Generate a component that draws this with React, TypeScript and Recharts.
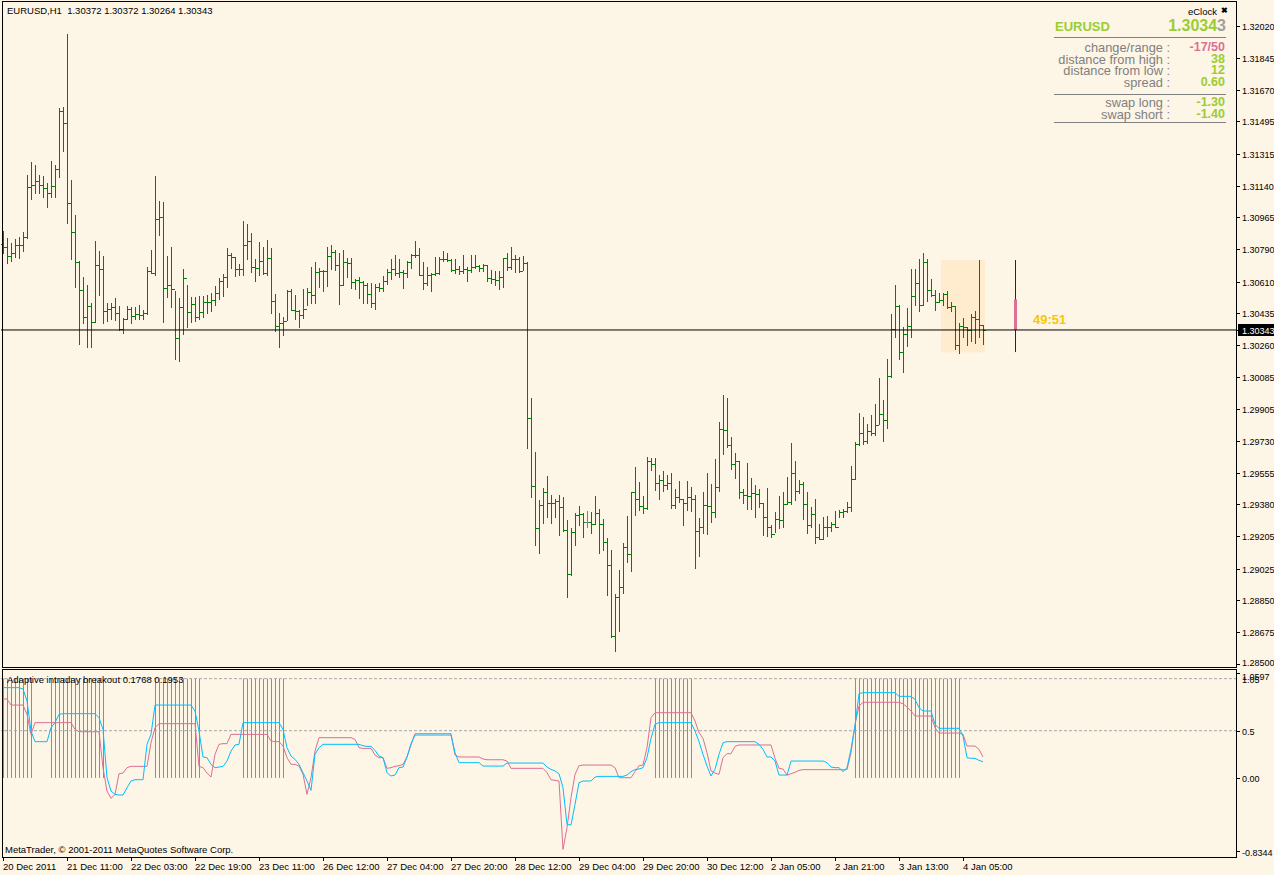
import { ComposedChart, Bar, Line, XAxis, YAxis, ReferenceLine, ReferenceArea } from "recharts"

const BG = "#FDF5E6"
const FONT = "Tahoma, 'Liberation Sans', Arial, sans-serif"
const SLOTS = 309
const LAST_PRICE = 1.30343
const PRICE_MIN = 1.28482
const PRICE_MAX = 1.32154

// EURUSD H1 bars, oldest first
const firstOpen = 1.3082
const highs = [
  1.30892, 1.30851, 1.30825, 1.30847, 1.30858, 1.30884, 1.31201, 1.31271, 1.31256, 1.31197,
  1.31193, 1.31156, 1.31278, 1.31252, 1.31569, 1.31576, 1.31977, 1.31171, 1.3098, 1.30726,
  1.30637, 1.30593, 1.3049, 1.30836, 1.30781, 1.30751, 1.30494, 1.3049, 1.3052, 1.30475,
  1.30409, 1.30475, 1.30468, 1.30468, 1.30479, 1.30453, 1.30693, 1.30785, 1.31193, 1.31053,
  1.3105, 1.30751, 1.30799, 1.3056, 1.30519, 1.30681, 1.30589, 1.30523, 1.30523, 1.30531,
  1.30531, 1.30534, 1.30549, 1.30586, 1.3063, 1.30652, 1.30796, 1.30766, 1.30744, 1.30707,
  1.30943, 1.30928, 1.30877, 1.30737, 1.30829, 1.30803, 1.3084, 1.30796, 1.30542, 1.30435,
  1.30416, 1.30564, 1.30567, 1.30538, 1.30453, 1.30571, 1.30575, 1.30693, 1.30718, 1.30685,
  1.30674, 1.30799, 1.30814, 1.30785, 1.3077, 1.30785, 1.3074, 1.3074, 1.30626, 1.30634,
  1.30612, 1.30604, 1.30604, 1.30597, 1.30604, 1.30641, 1.30678, 1.30737, 1.30755, 1.30737,
  1.30674, 1.30722, 1.30762, 1.30832, 1.30796, 1.30718, 1.30693, 1.30656, 1.30744, 1.30744,
  1.30781, 1.3077, 1.30737, 1.30733, 1.30696, 1.30755, 1.30693, 1.30759, 1.30759, 1.30704,
  1.30707, 1.307, 1.30674, 1.30667, 1.30667, 1.3074, 1.30766, 1.30799, 1.30755, 1.30748,
  1.30751, 1.30718, 1.29967, 1.29669, 1.29404, 1.2947, 1.29537, 1.2943, 1.29411, 1.2943,
  1.29419, 1.29293, 1.29249, 1.29334, 1.29371, 1.2933, 1.29345, 1.29338, 1.29426, 1.29352,
  1.29297, 1.29193, 1.29128, 1.28885, 1.29017, 1.29168, 1.29316, 1.29448, 1.29584, 1.29503,
  1.29426, 1.2964, 1.29636, 1.29636, 1.2954, 1.29566, 1.29544, 1.29555, 1.29467, 1.29507,
  1.29411, 1.29507, 1.29478, 1.29433, 1.29305, 1.29448, 1.29551, 1.29492, 1.29632, 1.29835,
  1.29986, 1.29967, 1.29754, 1.29662, 1.29621, 1.29467, 1.29607, 1.29525, 1.29485, 1.29467,
  1.29385, 1.2947, 1.29264, 1.29338, 1.29426, 1.29448, 1.29533, 1.29721, 1.29621, 1.29514,
  1.29503, 1.29448, 1.29367, 1.29411, 1.29271, 1.29312, 1.29316, 1.29282, 1.29345, 1.29349,
  1.29352, 1.29393, 1.29592, 1.29724, 1.29886, 1.29864, 1.29824, 1.29875, 1.29934, 1.30078,
  1.29956, 1.30181, 1.30431, 1.30593, 1.30479, 1.30357, 1.30464, 1.30681, 1.30681, 1.30737,
  1.3077, 1.30737, 1.30626, 1.30564, 1.30545, 1.30549, 1.3056, 1.30497, 1.30475, 1.3038,
  1.30409, 1.30357, 1.30431, 1.3045, 1.30729, 1.30372,
]
const lows = [
  1.30767, 1.30711, 1.30726, 1.30744, 1.3074, 1.30777, 1.30851, 1.31068, 1.31101, 1.31097,
  1.31079, 1.3102, 1.31079, 1.31075, 1.31186, 1.31329, 1.30932, 1.30737, 1.30578, 1.30265,
  1.30383, 1.30247, 1.30251, 1.30387, 1.30538, 1.30383, 1.30391, 1.30405, 1.30398, 1.30343,
  1.30328, 1.30402, 1.30383, 1.30402, 1.30405, 1.30405, 1.30431, 1.30656, 1.30648, 1.30866,
  1.30387, 1.30527, 1.30468, 1.30185, 1.3017, 1.30321, 1.30358, 1.30387, 1.30394, 1.30402,
  1.30416, 1.30435, 1.3045, 1.30479, 1.30512, 1.30531, 1.30582, 1.30685, 1.30641, 1.30645,
  1.30648, 1.30737, 1.30663, 1.30615, 1.30645, 1.30652, 1.30645, 1.30439, 1.30335, 1.30251,
  1.30313, 1.30398, 1.30453, 1.30402, 1.30358, 1.30409, 1.30483, 1.3049, 1.3049, 1.30582,
  1.30556, 1.30586, 1.30678, 1.30674, 1.30486, 1.30589, 1.30637, 1.30575, 1.30571, 1.30519,
  1.3049, 1.30494, 1.30472, 1.30461, 1.3056, 1.3056, 1.30597, 1.30626, 1.30645, 1.30637,
  1.30575, 1.30637, 1.30685, 1.30748, 1.30645, 1.30571, 1.30593, 1.30556, 1.30645, 1.30652,
  1.30722, 1.30722, 1.3067, 1.30656, 1.30652, 1.30656, 1.30612, 1.30663, 1.30685, 1.3067,
  1.3067, 1.30612, 1.30604, 1.30589, 1.30567, 1.30578, 1.30674, 1.30678, 1.30663, 1.30663,
  1.30674, 1.29691, 1.29422, 1.29154, 1.29109, 1.29279, 1.29312, 1.29279, 1.29312, 1.29209,
  1.29231, 1.28867, 1.28992, 1.29157, 1.29268, 1.29202, 1.29253, 1.29224, 1.29271, 1.29109,
  1.29128, 1.28877, 1.28649, 1.28568, 1.28682, 1.28889, 1.29062, 1.29014, 1.29323, 1.29349,
  1.29334, 1.29356, 1.2957, 1.29459, 1.29411, 1.29455, 1.29463, 1.2936, 1.2936, 1.29393,
  1.29268, 1.29349, 1.29345, 1.29029, 1.29095, 1.2922, 1.29216, 1.29282, 1.29308, 1.29455,
  1.29658, 1.29695, 1.29577, 1.29525, 1.29415, 1.29385, 1.29356, 1.29352, 1.29308, 1.29367,
  1.29212, 1.29205, 1.29198, 1.29227, 1.29249, 1.29257, 1.29382, 1.29382, 1.29404, 1.29441,
  1.29301, 1.29224, 1.29257, 1.29168, 1.2919, 1.29187, 1.29205, 1.29235, 1.29253, 1.29308,
  1.29308, 1.29338, 1.29345, 1.29518, 1.2971, 1.29713, 1.29721, 1.29765, 1.29761, 1.29824,
  1.29732, 1.29802, 1.30085, 1.30306, 1.30184, 1.30111, 1.30254, 1.30306, 1.30479, 1.30446,
  1.30479, 1.30505, 1.3053, 1.30453, 1.30497, 1.30479, 1.30464, 1.3045, 1.3024, 1.30218,
  1.30306, 1.30262, 1.30284, 1.30271, 1.30306, 1.30264,
]
const closes = [
  1.308, 1.30751, 1.3077, 1.3081, 1.30814, 1.30858, 1.31131, 1.31145, 1.31164, 1.31142,
  1.31127, 1.31097, 1.31138, 1.3123, 1.3155, 1.31484, 1.31042, 1.30884, 1.30718, 1.30564,
  1.30413, 1.30475, 1.30387, 1.30704, 1.30682, 1.30446, 1.30457, 1.30468, 1.30435, 1.3035,
  1.30402, 1.30457, 1.3042, 1.30431, 1.30427, 1.30438, 1.30668, 1.30656, 1.30954, 1.30965,
  1.30575, 1.30589, 1.30567, 1.30299, 1.30472, 1.30628, 1.3044, 1.30486, 1.30413, 1.30444,
  1.30497, 1.305, 1.30508, 1.30545, 1.30612, 1.30637, 1.30755, 1.30744, 1.30678, 1.30681,
  1.30814, 1.30836, 1.30693, 1.30685, 1.30722, 1.30659, 1.3074, 1.30505, 1.30365, 1.30383,
  1.30391, 1.30556, 1.30453, 1.3045, 1.30424, 1.30461, 1.30553, 1.30534, 1.30663, 1.30667,
  1.3067, 1.30751, 1.30773, 1.307, 1.30589, 1.30718, 1.30711, 1.30608, 1.30619, 1.30608,
  1.30589, 1.30542, 1.3049, 1.30582, 1.30575, 1.30612, 1.30663, 1.30678, 1.30659, 1.30663,
  1.30656, 1.30718, 1.30755, 1.30759, 1.30645, 1.306, 1.30648, 1.30652, 1.30656, 1.30733,
  1.30736, 1.30729, 1.30674, 1.30677, 1.30667, 1.30678, 1.30674, 1.30693, 1.30696, 1.30685,
  1.307, 1.3063, 1.30622, 1.30619, 1.30634, 1.3074, 1.30689, 1.30733, 1.30737, 1.30667,
  1.30715, 1.29855, 1.29481, 1.29249, 1.29374, 1.29448, 1.29389, 1.29385, 1.29397, 1.29364,
  1.29238, 1.28995, 1.29227, 1.29319, 1.29327, 1.29282, 1.29282, 1.29271, 1.2933, 1.29271,
  1.29172, 1.29043, 1.28653, 1.28867, 1.28922, 1.29146, 1.29106, 1.29448, 1.29411, 1.29371,
  1.2936, 1.29621, 1.29603, 1.295, 1.29514, 1.29489, 1.295, 1.29378, 1.29419, 1.29411,
  1.29389, 1.29419, 1.29411, 1.29231, 1.29257, 1.29378, 1.29371, 1.29338, 1.29478, 1.29798,
  1.29791, 1.2971, 1.29603, 1.29621, 1.29448, 1.2943, 1.29426, 1.29441, 1.29437, 1.29385,
  1.29312, 1.29257, 1.29216, 1.29297, 1.29294, 1.29382, 1.29393, 1.29551, 1.29452, 1.29492,
  1.29382, 1.29264, 1.29327, 1.29202, 1.2919, 1.29253, 1.29256, 1.29271, 1.29253, 1.29338,
  1.29341, 1.29364, 1.29518, 1.29713, 1.29776, 1.29728, 1.29787, 1.29772, 1.29816, 1.29879,
  1.29846, 1.30089, 1.30347, 1.30475, 1.30221, 1.3032, 1.30365, 1.3053, 1.30604, 1.30479,
  1.30718, 1.30564, 1.30534, 1.30497, 1.30508, 1.30542, 1.30472, 1.30475, 1.30262, 1.30365,
  1.30357, 1.30343, 1.30416, 1.30405, 1.30372, 1.30343,
]
const dojiBars = [146]

// eClock projection bar drawn ahead of the last bar
const eclockSlot = 253
const eclockRange = [1.30221, 1.30729]
const eclockBody = [1.30343, 1.30512]
const boxFrom = 235
const boxTo = 245

// Adaptive intraday breakout (fast = blue, slow = pink)
const fastLine = [
  0.955, 0.955, 0.955, 0.955, 0.955, 0.94, 0.814, 0.496, 0.384, 0.384,
  0.384, 0.384, 0.532, 0.585, 0.673, 0.68, 0.68, 0.68, 0.68, 0.68,
  0.68, 0.68, 0.68, 0.68, 0.637, 0.514, 0.003, -0.138, -0.173, -0.18,
  -0.18, -0.103, -0.032, -0.018, -0.018, -0.018, 0.356, 0.461, 0.771, 0.771,
  0.771, 0.771, 0.771, 0.771, 0.771, 0.771, 0.771, 0.771, 0.708, 0.496,
  0.222, 0.215, 0.144, 0.109, 0.116, 0.123, 0.179, 0.285, 0.349, 0.356,
  0.585, 0.585, 0.585, 0.585, 0.585, 0.585, 0.585, 0.585, 0.585, 0.585,
  0.514, 0.32, 0.232, 0.197, 0.144, 0.056, -0.032, -0.131, 0.25, 0.32,
  0.356, 0.356, 0.356, 0.356, 0.356, 0.356, 0.356, 0.356, 0.356, 0.356,
  0.341, 0.334, 0.334, 0.292, 0.232, 0.215, 0.056, 0.021, 0.031, 0.109,
  0.116, 0.222, 0.363, 0.454, 0.454, 0.454, 0.454, 0.454, 0.454, 0.454,
  0.454, 0.454, 0.454, 0.267, 0.162, 0.162, 0.162, 0.162, 0.162, 0.162,
  0.126, 0.126, 0.126, 0.126, 0.126, 0.126, 0.158, 0.158, 0.158, 0.158,
  0.158, 0.158, 0.158, 0.158, 0.158, 0.158, 0.116, 0.091, 0.074, 0.045,
  -0.103, -0.49, -0.497, -0.279, -0.05, -0.032, -0.032, -0.032, 0.01, 0.017,
  0.017, 0.017, 0.017, 0.017, 0.017, 0.017, 0.031, 0.067, 0.088, 0.095,
  0.109, 0.215, 0.419, 0.567, 0.585, 0.585, 0.585, 0.585, 0.585, 0.585,
  0.585, 0.585, 0.585, 0.496, 0.384, 0.25, 0.126, 0.021, 0.091, 0.25,
  0.373, 0.384, 0.384, 0.384, 0.384, 0.384, 0.384, 0.384, 0.384, 0.356,
  0.303, 0.222, 0.222, 0.179, 0.031, 0.031, 0.031, 0.179, 0.179, 0.179,
  0.179, 0.179, 0.179, 0.179, 0.179, 0.179, 0.162, 0.116, 0.109, 0.109,
  0.067, 0.109, 0.303, 0.549, 0.891, 0.902, 0.902, 0.902, 0.902, 0.902,
  0.902, 0.902, 0.902, 0.902, 0.863, 0.863, 0.863, 0.863, 0.831, 0.743,
  0.708, 0.708, 0.708, 0.567, 0.525, 0.525, 0.525, 0.525, 0.525, 0.525,
  0.444, 0.215, 0.208, 0.208, 0.186, 0.172,
]
const slowLine = [
  0.835, 0.835, 0.771, 0.771, 0.771, 0.771, 0.673, 0.461, 0.585, 0.585,
  0.585, 0.585, 0.585, 0.585, 0.585, 0.585, 0.585, 0.585, 0.514, 0.489,
  0.489, 0.489, 0.489, 0.489, 0.489, 0.109, -0.138, -0.215, -0.173, 0.045,
  0.052, 0.109, 0.123, 0.123, 0.123, 0.123, 0.123, 0.373, 0.532, 0.574,
  0.574, 0.574, 0.574, 0.574, 0.574, 0.574, 0.574, 0.574, 0.574, 0.123,
  0.109, 0.052, 0.01, 0.25, 0.356, 0.363, 0.363, 0.461, 0.461, 0.461,
  0.461, 0.461, 0.461, 0.461, 0.461, 0.461, 0.461, 0.391, 0.384, 0.384,
  0.338, 0.215, 0.144, 0.144, 0.126, 0.038, -0.173, 0.003, 0.285, 0.426,
  0.426, 0.426, 0.426, 0.426, 0.426, 0.426, 0.426, 0.426, 0.408, 0.32,
  0.313, 0.313, 0.313, 0.243, 0.215, 0.215, 0.102, 0.109, 0.123, 0.13,
  0.144, 0.222, 0.349, 0.468, 0.468, 0.468, 0.468, 0.468, 0.468, 0.468,
  0.468, 0.468, 0.468, 0.243, 0.222, 0.222, 0.222, 0.222, 0.222, 0.222,
  0.201, 0.193, 0.193, 0.193, 0.193, 0.193, 0.179, 0.102, 0.102, 0.102,
  0.102, 0.102, 0.102, 0.102, 0.102, 0.102, 0.056, -0.018, -0.025, -0.032,
  -0.754, -0.525, -0.208, 0.038, 0.13, 0.137, 0.137, 0.137, 0.137, 0.137,
  0.137, 0.137, 0.137, 0.109, 0.003, 0.003, 0.003, 0.003, 0.067, 0.13,
  0.137, 0.32, 0.637, 0.69, 0.69, 0.69, 0.69, 0.69, 0.69, 0.69,
  0.69, 0.69, 0.69, 0.602, 0.479, 0.419, 0.267, 0.074, 0.052, 0.038,
  0.215, 0.257, 0.257, 0.334, 0.349, 0.349, 0.349, 0.349, 0.349, 0.349,
  0.349, 0.349, 0.349, 0.208, 0.102, 0.095, 0.031, 0.045, 0.06, 0.081,
  0.088, 0.088, 0.088, 0.088, 0.088, 0.088, 0.088, 0.088, 0.088, 0.088,
  0.088, 0.088, 0.267, 0.567, 0.761, 0.8, 0.8, 0.8, 0.8, 0.8,
  0.8, 0.8, 0.8, 0.8, 0.8, 0.785, 0.75, 0.708, 0.655, 0.655,
  0.655, 0.655, 0.655, 0.532, 0.475, 0.475, 0.475, 0.475, 0.475, 0.475,
  0.461, 0.338, 0.338, 0.338, 0.303, 0.222,
]
// breakout histogram: bar index ranges where the signal is on
const signalRanges = [[0, 7], [12, 25], [38, 49], [60, 70], [163, 172], [213, 239]]
const signalLevel = 1.05

const priceTicks = [
  1.3202, 1.31845, 1.3167, 1.31495, 1.31315, 1.3114, 1.30965, 1.3079, 1.3061, 1.30435,
  1.30343, 1.3026, 1.30085, 1.29905, 1.2973, 1.29555, 1.2938, 1.29205, 1.29025, 1.2885,
  1.28675, 1.285,
]
const indTicks = [1.05, 0.5, 0, -0.8344]
const timeLabels = [
  "20 Dec 2011", "21 Dec 11:00", "22 Dec 03:00", "22 Dec 19:00", "23 Dec 11:00",
  "26 Dec 12:00", "27 Dec 04:00", "27 Dec 20:00", "28 Dec 12:00", "29 Dec 04:00",
  "29 Dec 20:00", "30 Dec 12:00", "2 Jan 05:00", "2 Jan 21:00", "3 Jan 13:00", "4 Jan 05:00",
]

const mainRows = Array.from({ length: SLOTS }, (_, i) => {
  if (i < highs.length) {
    return {
      i,
      range: [lows[i], highs[i]],
      o: i === 0 ? firstOpen : closes[i - 1],
      h: highs[i],
      l: lows[i],
      c: closes[i],
      doji: dojiBars.includes(i),
    }
  }
  if (i === eclockSlot) {
    return { i, range: eclockRange, ec: true, bodyLow: eclockBody[0], bodyHigh: eclockBody[1] }
  }
  return { i, range: null }
})

const indRows = Array.from({ length: SLOTS }, (_, i) => ({
  i,
  fast: i < fastLine.length ? fastLine[i] : null,
  slow: i < slowLine.length ? slowLine[i] : null,
  sig: signalRanges.some(([a, b]) => i >= a && i <= b) ? signalLevel : null,
}))

const boxLow = Math.min(...lows.slice(boxFrom, boxTo + 1))
const boxHigh = Math.max(...highs.slice(boxFrom, boxTo + 1))

function OhlcShape(props: any) {
  const { x, y, width, height, payload } = props
  if (!payload || !payload.range) return null
  const top = Math.min(y, y + height)
  const h = Math.abs(height)
  const [lo, hi] = payload.range
  const toY = (v: number) => top + ((hi - v) / (hi - lo)) * h
  const cx = Math.floor(x + width / 2) + 0.5
  if (payload.ec) {
    const bt = toY(payload.bodyHigh)
    const bb = toY(payload.bodyLow)
    return (
      <g>
        <line x1={cx} x2={cx} y1={top} y2={top + h} stroke="#800000" />
        <rect x={cx - 1.5} y={bt} width={3} height={bb - bt} fill="#DB7093" />
      </g>
    )
  }
  const color = payload.doji ? "#808080" : "#008000"
  const oy = Math.round(toY(payload.o)) + 0.5
  const cy = Math.round(toY(payload.c)) + 0.5
  return (
    <g>
      <line x1={cx} x2={cx} y1={Math.round(top)} y2={Math.round(top + h) + 1} stroke={color} />
      <line x1={cx - 2.5} x2={cx - 0.5} y1={oy} y2={oy} stroke={color} />
      <line x1={cx + 0.5} x2={cx + 2.5} y1={cy} y2={cy} stroke={color} />
    </g>
  )
}

function HistShape(props: any) {
  const { x, y, width, height, payload } = props
  if (!payload || payload.sig == null) return null
  const cx = Math.floor(x + width / 2) + 0.5
  return <line x1={cx} x2={cx} y1={y} y2={y + height} stroke="#00BFFF" />
}

function PriceTick(props: any) {
  const { y, payload } = props
  const yy = Math.round(y) + 0.5
  const v = payload.value as number
  const isLast = Math.abs(v - LAST_PRICE) < 1e-7
  // the lowest label sits right on the panel edge; lift it a pixel
  const ty = v < 1.2851 ? yy - 1.5 : yy
  return (
    <g>
      <line x1={1237} x2={1240} y1={yy} y2={yy} stroke="#000" />
      {isLast && <rect x={1238} y={yy - 6.5} width={36} height={12} fill="#000" />}
      <text x={1242} y={ty} dy="0.35em" fontSize={9} fontFamily={FONT} fill={isLast ? "#fff" : "#000"}>
        {v.toFixed(5)}
      </text>
    </g>
  )
}

function IndTick(props: any) {
  const { y, payload } = props
  const v = payload.value as number
  const yy = Math.round(y) + 0.5
  const txt = (t: string, ty: number) => (
    <text x={1242} y={ty} dy="0.35em" fontSize={9} fontFamily={FONT} fill="#000">{t}</text>
  )
  if (v === 1.05) {
    return (
      <g>
        <line x1={1237} x2={1240} y1={yy - 6} y2={yy - 6} stroke="#000" />
        {txt("1.0597", yy - 3)}
        {txt("1.05", yy)}
      </g>
    )
  }
  if (v < -0.8) {
    return (
      <g>
        <line x1={1237} x2={1240} y1={yy - 6} y2={yy - 6} stroke="#000" />
        {txt("-0.8344", yy - 5)}
      </g>
    )
  }
  return (
    <g>
      <line x1={1237} x2={1240} y1={yy} y2={yy} stroke="#000" />
      {txt(v === 0 ? "0.00" : "0.5", yy)}
    </g>
  )
}

function TimeTick(props: any) {
  const { x, payload } = props
  const k = payload.value as number
  const label = k % 16 === 0 ? timeLabels[k / 16] : undefined
  if (!label) return null
  const px = Math.floor(x) + 0.5
  return (
    <g>
      <line x1={px} x2={px} y1={188} y2={192} stroke="#000" />
      <text x={px - 0.5} y={201} fontSize={9.5} fontFamily={FONT} fill="#000">{label}</text>
    </g>
  )
}

function Txt({ x, y, size = 9.5, lh, color = "#000", bold = false, right = false, children }: any) {
  const lineH = lh ?? size + 2
  const style: any = {
    position: "absolute",
    top: y - lineH / 2,
    fontSize: size,
    lineHeight: `${lineH}px`,
    color,
    fontWeight: bold ? "bold" : "normal",
    whiteSpace: "nowrap",
    fontFamily: FONT,
  }
  if (right) style.right = 1274 - x
  else style.left = x
  return <div style={style}>{children}</div>
}

const eclockRows = [
  { label: "change/range :", value: "-17/50", color: "#DB7093", y: 47 },
  { label: "distance from high :", value: "38", color: "#9ACD32", y: 59 },
  { label: "distance from low :", value: "12", color: "#9ACD32", y: 70.5 },
  { label: "spread :", value: "0.60", color: "#9ACD32", y: 82 },
  { label: "swap long :", value: "-1.30", color: "#9ACD32", y: 102 },
  { label: "swap short :", value: "-1.40", color: "#9ACD32", y: 114 },
]

export default function App() {
  const rule = (top: number) => (
    <div style={{ position: "absolute", left: 1054, top, width: 172, height: 1, background: "#808080" }} />
  )
  return (
    <div style={{ position: "relative", width: 1274, height: 875, background: BG, overflow: "hidden" }}>
      <style>{`body{margin:0}`}</style>

      <div style={{ position: "absolute", left: 0, top: 0 }}>
        <ComposedChart width={1274} height={668} data={mainRows} margin={{ top: 2, right: 0, bottom: 1, left: 1 }} barCategoryGap={0} barGap={0} style={{ overflow: "visible" }}>
          <XAxis dataKey="i" type="category" hide />
          <YAxis
            orientation="right"
            width={37}
            domain={[PRICE_MIN, PRICE_MAX]}
            allowDataOverflow
            ticks={priceTicks}
            interval={0}
            tick={<PriceTick />}
            tickLine={false}
            axisLine={false}
          />
          <ReferenceArea x1={boxFrom} x2={boxTo} y1={boxLow} y2={boxHigh} fill="#FFEBCD" fillOpacity={1} stroke="none" />
          <Bar dataKey="range" shape={<OhlcShape />} isAnimationActive={false} />
          <ReferenceLine y={LAST_PRICE} stroke="#000" />
        </ComposedChart>
      </div>

      <div style={{ position: "absolute", left: 0, top: 669 }}>
        <ComposedChart width={1274} height={206} data={indRows} margin={{ top: 0, right: 0, bottom: 0, left: 1 }} barCategoryGap={0} barGap={0} style={{ overflow: "visible" }}>
          <XAxis dataKey="i" type="category" interval={15} height={18} tick={<TimeTick />} tickLine={false} axisLine={false} />
          <YAxis
            orientation="right"
            width={37}
            domain={[-0.835, 1.152]}
            allowDataOverflow
            ticks={indTicks}
            interval={0}
            tick={<IndTick />}
            tickLine={false}
            axisLine={false}
          />
          <ReferenceLine y={1.05} stroke="#A8A8A8" strokeDasharray="3 2" />
          <ReferenceLine y={0.5} stroke="#A8A8A8" strokeDasharray="3 2" />
          <Bar dataKey="sig" shape={<HistShape />} isAnimationActive={false} />
          <Line type="linear" dataKey="slow" stroke="#DB7093" strokeWidth={1} dot={false} activeDot={false} isAnimationActive={false} />
          <Line type="linear" dataKey="fast" stroke="#00BFFF" strokeWidth={1} dot={false} activeDot={false} isAnimationActive={false} />
        </ComposedChart>
      </div>

      {/* window frames */}
      <div style={{ position: "absolute", left: 2, top: 1, width: 1235, height: 667, border: "1px solid #000", boxSizing: "border-box", pointerEvents: "none" }} />
      <div style={{ position: "absolute", left: 2, top: 669, width: 1235, height: 189, border: "1px solid #000", boxSizing: "border-box", pointerEvents: "none" }} />

      <Txt x={7} y={11}>EURUSD,H1&nbsp;&nbsp;1.30372 1.30372 1.30264 1.30343</Txt>
      <Txt x={7} y={680}>Adaptive intraday breakout 0.1768 0.1953</Txt>
      <Txt x={5} y={850}>MetaTrader, © 2001-2011 MetaQuotes Software Corp.</Txt>

      {/* eClock panel */}
      <Txt x={1217} y={11.5} right>eClock</Txt>
      <Txt x={1221} y={11} size={8} bold>✖</Txt>
      <Txt x={1055} y={26} size={13} bold color="#9ACD32">EURUSD</Txt>
      <Txt x={1226} y={25.5} size={16} bold right>
        <span style={{ color: "#9ACD32" }}>1.3034</span>
        <span style={{ color: "#A0A0A0" }}>3</span>
      </Txt>
      {rule(37)}
      {rule(94)}
      {rule(122)}
      {eclockRows.map(r => (
        <div key={r.label}>
          <Txt x={1170} y={r.y} size={12.8} lh={11} right color="#808080">{r.label}</Txt>
          <Txt x={1225} y={r.y} size={12.5} lh={11} bold right color={r.color}>{r.value}</Txt>
        </div>
      ))}
      <Txt x={1033} y={319.5} size={13} bold color="#F7C800">49:51</Txt>
    </div>
  )
}
